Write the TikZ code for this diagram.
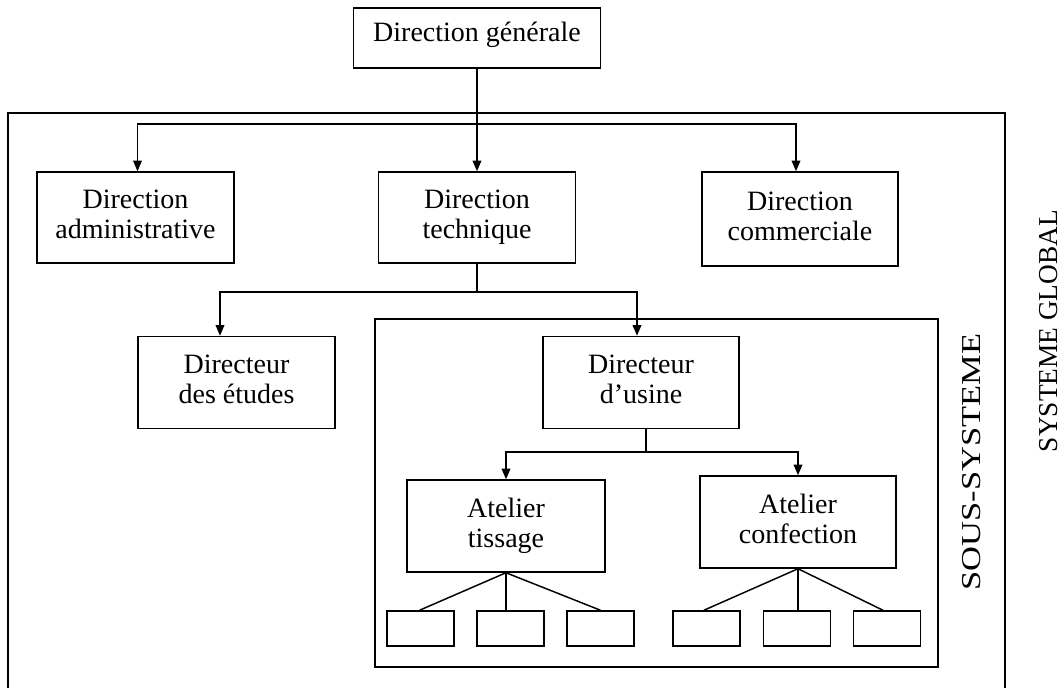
\documentclass[tikz,border=0pt]{standalone}
\usepackage{fontspec}
\setmainfont{Liberation Serif}
\usetikzlibrary{arrows.meta}
\begin{document}
\begin{tikzpicture}[x=0.75pt,y=-0.75pt,
  box/.style={draw, line width=1.1pt, align=center, inner sep=0pt, font=\fontsize{21}{22.5}\selectfont},
  bigbox/.style={box, minimum width=197*0.75pt, minimum height=92*0.75pt},
  smallbox/.style={draw, line width=1.1pt, minimum width=67*0.75pt, minimum height=35*0.75pt, inner sep=0pt},
  frame/.style={draw, line width=1pt},
  link/.style={line width=1.1pt},
  arr/.style={link, -{Triangle[length=8pt,width=6.5pt]}},
  side/.style={font=\fontsize{20.5}{22}\selectfont, rotate=90, inner sep=0pt}]
\useasboundingbox (0,0) rectangle (1062,688);
\fill[white] (0,0) rectangle (1062,688);

% frames
\draw[frame] (8,688) -- (8,113) -- (1005,113) -- (1005,688);
\draw[frame] (375,319) rectangle (938,667);

% boxes
\node[box, minimum width=247*0.75pt, minimum height=60*0.75pt] (gen) at (477,38) {\raisebox{2pt}{Direction générale}\strut};
\node[bigbox, minimum height=91*0.75pt] (adm) at (135.5,217.5) {Direction\strut\\administrative\strut};
\node[bigbox, minimum height=91*0.75pt] (tech) at (477,217.5) {Direction\strut\\technique\strut};
\node[bigbox, minimum width=196*0.75pt, minimum height=94*0.75pt] (com) at (800,219) {Direction\strut\\commerciale\strut};
\node[bigbox] (etu) at (236.5,382.5) {Directeur\strut\\des études\strut};
\node[bigbox, minimum width=196*0.75pt] (usi) at (641,382.5) {Directeur\strut\\d'usine\strut};
\node[bigbox, minimum width=198*0.75pt] (tis) at (506,526) {Atelier\strut\\tissage\strut};
\node[bigbox, minimum width=196*0.75pt] (con) at (798,522) {Atelier\strut\\confection\strut};

\node[smallbox] (s1) at (420.5,628.5) {};
\node[smallbox] (s2) at (510.5,628.5) {};
\node[smallbox] (s3) at (600.5,628.5) {};
\node[smallbox] (s4) at (706.5,628.5) {};
\node[smallbox] (s5) at (797,628.5) {};
\node[smallbox] (s6) at (887,628.5) {};

% connectors
\coordinate (j1) at (477,124);
\draw[arr] (gen.south) -- (tech.north);
\draw[arr] (j1) -| ([xshift=1.5pt]adm.north);
\draw[arr] (j1) -| ([xshift=-3pt]com.north);

\coordinate (j2) at (477,292);
\coordinate (bL) at (220,292);
\coordinate (bR) at (637,292);
\draw[link] (tech.south) -- (j2);
\draw[arr] (j2) -| (bL |- etu.north);
\draw[arr] (j2) -| (bR |- usi.north);

\coordinate (j3) at (646,452);
\draw[link] (usi.south -| j3) -- (j3);
\draw[arr] (j3) -| (tis.north);
\draw[arr] (j3) -| (con.north);

\draw[link] (tis.south) -- ([xshift=-0.75pt]s1.north);
\draw[link] (tis.south) -- (tis.south |- s2.north);
\draw[link] (tis.south) -- (s3.north);
\draw[link] (con.south) -- ([xshift=-2pt]s4.north);
\draw[link] (con.south) -- (con.south |- s5.north);
\draw[link] (con.south) -- ([xshift=-3pt]s6.north);

% side labels
\node[side] (sous) at (972,462) {\scalebox{1.26}[1]{SOUS-SYSTEME}};
\node[side] (glob) at (1049,331) {SYSTEME GLOBAL};
\end{tikzpicture}
\end{document}
